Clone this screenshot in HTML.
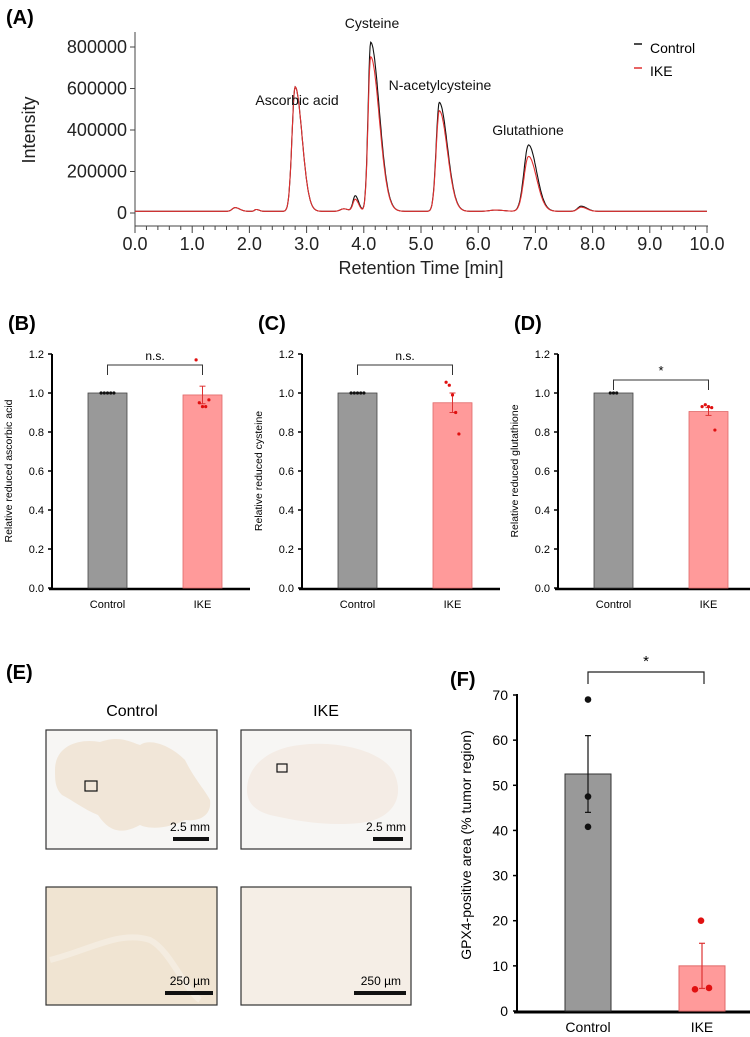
<!DOCTYPE html>
<html><head><meta charset="utf-8"><style>
body{margin:0;background:#fff;}
svg{display:block;font-family:"Liberation Sans",Arial,sans-serif;}
</style></head><body>
<svg id="fig" width="750" height="1037" viewBox="0 0 750 1037">
<g id="pA"></g>
<g id="pB"></g>
<g id="pC"></g>
<g id="pD"></g>
<g id="pE">
  <text x="6" y="679" font-size="20" font-weight="bold">(E)</text>
  <text x="132" y="716" font-size="16" text-anchor="middle">Control</text>
  <text x="326" y="716" font-size="16" text-anchor="middle">IKE</text>
  <g>
    <rect x="46" y="730" width="171" height="119" fill="#f7f6f4" stroke="#333" stroke-width="1.2"/>
    <path d="M55 770 C55 745 80 738 100 742 C120 735 130 742 140 745 C150 738 170 745 185 760 C195 780 205 790 210 800 C212 815 200 822 185 820 C170 828 150 830 140 825 C120 836 108 830 98 815 C85 810 72 800 62 795 C55 788 55 780 55 770 Z" fill="#f1e6d8"/>
    <rect x="85" y="781" width="12" height="10" fill="none" stroke="#111" stroke-width="1.2"/>
    <text x="210" y="831" font-size="12" text-anchor="end">2.5 mm</text>
    <rect x="173" y="837" width="36" height="4" fill="#111"/>
  </g>
  <g>
    <rect x="241" y="730" width="170" height="119" fill="#f7f6f4" stroke="#333" stroke-width="1.2"/>
    <path d="M247 790 C247 765 270 748 300 745 C335 740 385 750 395 775 C405 800 390 820 360 823 C330 826 300 822 270 815 C252 810 247 800 247 790 Z" fill="#f4ece5"/>
    <rect x="277" y="764" width="10" height="8" fill="none" stroke="#111" stroke-width="1.2"/>
    <text x="406" y="831" font-size="12" text-anchor="end">2.5 mm</text>
    <rect x="373" y="837" width="30" height="4" fill="#111"/>
  </g>
  <g>
    <rect x="46" y="887" width="171" height="118" fill="#f0e4d2" stroke="#333" stroke-width="1.2"/>
    <path d="M50 960 C90 950 120 930 150 940 C170 950 185 990 200 1000" stroke="#f4ece0" stroke-width="6" fill="none"/>
    <text x="210" y="985" font-size="12" text-anchor="end">250 µm</text>
    <rect x="165" y="991" width="48" height="4" fill="#111"/>
  </g>
  <g>
    <rect x="241" y="887" width="170" height="118" fill="#f5eee6" stroke="#333" stroke-width="1.2"/>
    <text x="401" y="985" font-size="12" text-anchor="end">250 µm</text>
    <rect x="354" y="991" width="52" height="4" fill="#111"/>
  </g>
</g>
<g id="pF"></g>
</svg>
<script>
const NS="http://www.w3.org/2000/svg";
function mk(p,tag,at,txt){const e=document.createElementNS(NS,tag);for(const k in at)e.setAttribute(k,at[k]);if(txt!==undefined)e.textContent=txt;p.appendChild(e);return e;}

// ===== Panel A data =====
const peakTimes=[1.75,2.12,2.80,3.65,3.85,4.12,5.32,6.30,6.88,7.80];
const controlHeights=[18000,9000,600000,12000,75000,815000,525000,6000,320000,25000];
const ikeHeights=[18000,9000,600000,12000,58000,745000,485000,6000,265000,20000];
const peakWidthL=[0.05,0.03,0.055,0.06,0.04,0.045,0.055,0.1,0.08,0.06];
const peakWidthR=[0.08,0.05,0.12,0.08,0.06,0.15,0.14,0.15,0.14,0.1];
const baseline=8000;
const xTicksA=[0,1,2,3,4,5,6,7,8,9,10];
const yTicksA=[0,200000,400000,600000,800000];

const pA=document.getElementById('pA');
const xA=t=>135+t*57.2, yA=v=>213-v*(166/800000);
mk(pA,'text',{x:6,y:24,'font-size':20,'font-weight':'bold'},'(A)');
mk(pA,'line',{x1:135,y1:32,x2:135,y2:226,stroke:'#444'});
mk(pA,'line',{x1:135,y1:226,x2:708,y2:226,stroke:'#444'});
yTicksA.forEach(v=>{
  mk(pA,'line',{x1:130,y1:yA(v),x2:135,y2:yA(v),stroke:'#444'});
  const t=mk(pA,'text',{x:127,y:yA(v)+6,'font-size':18,'text-anchor':'end',fill:'#222'},String(v));
  
  
});
for(let i=0;i<=50;i++){const t=i*0.2;mk(pA,'line',{x1:xA(t),y1:226,x2:xA(t),y2:i%5==0?233:230,stroke:'#444'});}
xTicksA.forEach(v=>{
  const t=mk(pA,'text',{x:xA(v),y:250,'font-size':18,'text-anchor':'middle',fill:'#222'},v.toFixed(1));
  
  
});
mk(pA,'text',{x:421,y:274,'font-size':18,'text-anchor':'middle',fill:'#222'},'Retention Time [min]');
mk(pA,'text',{x:0,y:0,'font-size':18,'text-anchor':'middle',fill:'#222',transform:'translate(35,130) rotate(-90)'},'Intensity');
function signal(t,h){let s=baseline;for(let i=0;i<peakTimes.length;i++){const d=t-peakTimes[i];const w=d<0?peakWidthL[i]:peakWidthR[i];s+=h[i]*Math.exp(-d*d/(2*w*w));}return s;}
function curve(h,col,name){let d='';for(let i=0;i<=1000;i++){const t=i/100;d+=(i?'L':'M')+xA(t).toFixed(1)+' '+yA(signal(t,h)).toFixed(1);}
  const p=mk(pA,'path',{d:d,fill:'none',stroke:col,'stroke-width':1.1});}
curve(controlHeights,'#111','control-trace');
curve(ikeHeights,'#e03030','ike-trace');
[['Ascorbic acid',297,105],['Cysteine',372,28],['N-acetylcysteine',440,90],['Glutathione',528,135]].forEach((a,i)=>{
  const t=mk(pA,'text',{x:a[1],y:a[2],'font-size':14,'text-anchor':'middle',fill:'#111'},a[0]);
  
  
});
mk(pA,'line',{x1:634,y1:44,x2:642,y2:44,stroke:'#111','stroke-width':1.5});
mk(pA,'text',{x:650,y:53,'font-size':14},'Control');
mk(pA,'line',{x1:634,y1:68,x2:642,y2:68,stroke:'#e03030','stroke-width':1.5});
mk(pA,'text',{x:650,y:76,'font-size':14},'IKE');

// ===== Panels B-D data =====
const bdCategories=['Control','IKE'];
const ascMeans=[1.0,0.99], ascErr=[0,0.045], ascPts=[[1,1,1,1,1],[1.17,0.95,0.93,0.93,0.965]];
const cysMeans=[1.0,0.95], cysErr=[0,0.05], cysPts=[[1,1,1,1,1],[1.055,1.04,0.99,0.90,0.79]];
const gshMeans=[1.0,0.905], gshErr=[0,0.02], gshPts=[[1,1,1],[0.93,0.94,0.93,0.925,0.81]];
const bdTicks=[0,0.2,0.4,0.6,0.8,1.0,1.2];

function smallBar(g,ox,label,ytitle,means,err,pts,sig,bracketY){
  const y=v=>588-v*(234/1.2);
  const bx=[ox+36,ox+131];
  mk(g,'text',{x:ox-44,y:330,'font-size':20,'font-weight':'bold'},label);
  mk(g,'line',{x1:ox,y1:354,x2:ox,y2:589,stroke:'#000','stroke-width':2});
  mk(g,'line',{x1:ox-3,y1:589,x2:ox+198,y2:589,stroke:'#000','stroke-width':2.5});
  bdTicks.forEach(v=>{mk(g,'line',{x1:ox-4,y1:y(v),x2:ox,y2:y(v),stroke:'#000','stroke-width':1.5});
    const t=mk(g,'text',{x:ox-8,y:y(v)+4,'font-size':11,'text-anchor':'end'},v.toFixed(1));
    
    });
  const cols=[['#999','#444'],['#ff9a9a','#e06868']];
  means.forEach((m,i)=>{
    const r=mk(g,'rect',{x:bx[i],y:y(m),width:39,height:588-y(m),fill:cols[i][0],stroke:cols[i][1],'stroke-width':0.8});
    
    
    const cx=bx[i]+19.5;
    if(err[i]>0){const ec=i?'#d33':'#333';
      mk(g,'line',{x1:cx,y1:y(m+err[i]),x2:cx,y2:y(m-err[i]),stroke:ec});
      mk(g,'line',{x1:cx-3,y1:y(m+err[i]),x2:cx+3,y2:y(m+err[i]),stroke:ec});
      mk(g,'line',{x1:cx-3,y1:y(m-err[i]),x2:cx+3,y2:y(m-err[i]),stroke:ec});}
    const n=pts[i].length;
    pts[i].forEach((p,j)=>{const c=mk(g,'circle',{cx:cx+(j-(n-1)/2)*3.2,cy:y(p),r:1.6,fill:i?'#e01010':'#111'});
      
      });
    mk(g,'text',{x:cx,y:608,'font-size':11,'text-anchor':'middle'},bdCategories[i]);
  });
  const c1=bx[0]+19.5,c2=bx[1]+19.5;
  mk(g,'path',{d:`M${c1} ${bracketY+10}V${bracketY}H${c2}V${bracketY+10}`,fill:'none',stroke:'#333'});
  mk(g,'text',{x:(c1+c2)/2,y:bracketY-5,'font-size':sig=='*'?13:12,'text-anchor':'middle'},sig);
  mk(g,'text',{x:0,y:0,'font-size':10.5,'text-anchor':'middle',transform:`translate(${ox-40},471) rotate(-90)`},ytitle);
}
smallBar(document.getElementById('pB'),52,'(B)','Relative reduced ascorbic acid',ascMeans,ascErr,ascPts,'n.s.',365);
smallBar(document.getElementById('pC'),302,'(C)','Relative reduced cysteine',cysMeans,cysErr,cysPts,'n.s.',365);
smallBar(document.getElementById('pD'),558,'(D)','Relative reduced glutathione',gshMeans,gshErr,gshPts,'*',380);

// ===== Panel F data =====
const fCategories=['Control','IKE'];
const fMeans=[52.5,10.0];
const fErr=[8.5,5.0];
const fPoints=[[69,47.5,40.8],[20,4.8,5.1]];
const fTicks=[0,10,20,30,40,50,60,70];
const pF=document.getElementById('pF');
const yF=v=>1011-v*(316/70);
mk(pF,'text',{x:450,y:686,'font-size':20,'font-weight':'bold'},'(F)');
mk(pF,'line',{x1:517,y1:694,x2:517,y2:1012,stroke:'#000','stroke-width':2});
mk(pF,'line',{x1:514,y1:1012,x2:750,y2:1012,stroke:'#000','stroke-width':3});
fTicks.forEach(v=>{mk(pF,'line',{x1:513,y1:yF(v),x2:517,y2:yF(v),stroke:'#000','stroke-width':1.5});
  const t=mk(pF,'text',{x:508,y:yF(v)+5,'font-size':14,'text-anchor':'end'},String(v));
  
  });
const fx=[565,679];
fMeans.forEach((m,i)=>{
  const r=mk(pF,'rect',{x:fx[i],y:yF(m),width:46,height:1011-yF(m),fill:i?'#ff9a9a':'#999',stroke:i?'#e06868':'#333','stroke-width':1});
  
  
  const cx=fx[i]+23, ec=i?'#d33':'#111';
  mk(pF,'line',{x1:cx,y1:yF(m+fErr[i]),x2:cx,y2:yF(m-fErr[i]),stroke:ec,'stroke-width':1.2});
  mk(pF,'line',{x1:cx-3,y1:yF(m+fErr[i]),x2:cx+3,y2:yF(m+fErr[i]),stroke:ec,'stroke-width':1.2});
  mk(pF,'line',{x1:cx-3,y1:yF(m-fErr[i]),x2:cx+3,y2:yF(m-fErr[i]),stroke:ec,'stroke-width':1.2});
  const offs=i?[-1,-7,7]:[0,0,0];
  fPoints[i].forEach((p,j)=>{const c=mk(pF,'circle',{cx:cx+offs[j],cy:yF(p),r:3.3,fill:i?'#e01010':'#111'});
    
    });
  mk(pF,'text',{x:cx,y:1032,'font-size':14,'text-anchor':'middle'},fCategories[i]);
});
mk(pF,'path',{d:'M588 684V672H704V684',fill:'none',stroke:'#222','stroke-width':1.2});
mk(pF,'text',{x:646,y:666,'font-size':15,'text-anchor':'middle'},'*');
mk(pF,'text',{x:0,y:0,'font-size':14,'text-anchor':'middle',transform:'translate(471,845) rotate(-90)'},'GPX4-positive area (% tumor region)');
</script>
</body></html>
